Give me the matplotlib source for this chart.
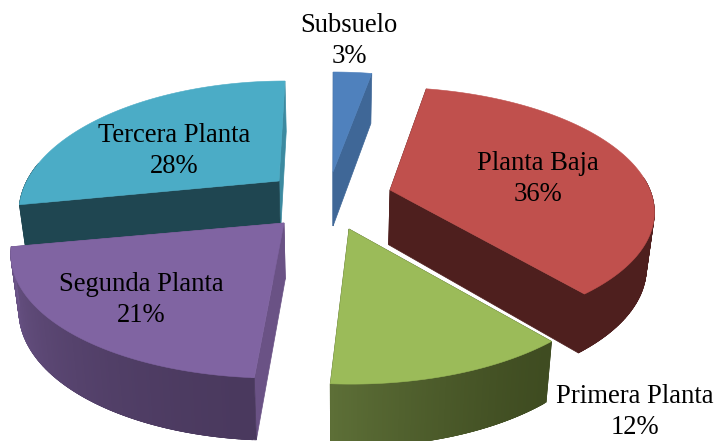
import matplotlib
matplotlib.use('Agg')
import matplotlib.pyplot as plt
import numpy as np

labels = ['Subsuelo', 'Planta Baja', 'Primera Planta', 'Segunda Planta', 'Tercera Planta']
values = [3, 36, 12, 21, 28]

# colores: cara superior, cara inicial, cara final, pared (inicio, fin)
top_colors = ['#4f81bd', '#c0504d', '#9bbb59', '#8064a2', '#4bacc6']
start_face = ['#3f6797', '#4e1f1e', '#3f4c21', '#6a5285', '#1f4651']
end_face = ['#3f6797', '#4e1f1e', '#3f4c21', '#6a5285', '#3c8aa0']
wall_a = ['#3f6797', '#4e1f1e', '#3f4c21', '#4a395e', '#1f4651']
wall_b = ['#3f6797', '#4e1f1e', '#5d6f37', '#6c5589', '#1f4651']

# separacion de cada porcion respecto al centro (pixeles)
explode_dx = [-2, 55, 14, -51, -56]
explode_dy = [-28, -10, 29, 23, -19]
# ajuste de radio y perspectiva por porcion
scale_x = [0.96, 1.0, 1.01, 1.02, 0.97]
scale_y = [1.0, 0.977, 1.0, 1.0, 1.0]
persp = [0.216, 0.156, 0.216, 0.216, 0.216]
label_pos = [(349, 41), (538, 179), (635, 412), (141, 300), (174, 151)]

cx, cy = 335, 200
rx, ry = 260, 121.6
shear = 0.00107
shrink = 0.975


def top_pt(i, tx, ty, a):
    u, v = np.sin(a), np.cos(a)
    s = 1 / (1 + persp[i] * v)
    x = tx + rx * scale_x[i] * u * s
    y = ty - ry * scale_y[i] * v * s
    x = x + (cx - tx) * (ty - y) * shear
    return x, y


def drop(x, y):
    d = 50 + (y - 72) * 0.04
    return cx + (x - cx) * shrink, y + d


def face(ax, x0, y0, x1, y1, color):
    bx0, by0 = drop(x0, y0)
    bx1, by1 = drop(x1, y1)
    ax.fill([x0, x1, bx1, bx0], [y0, y1, by1, by0], color=color, lw=0.5)


def mix(c0, c1, t):
    a = np.array(matplotlib.colors.to_rgb(c0))
    b = np.array(matplotlib.colors.to_rgb(c1))
    return tuple(a + (b - a) * t)


fig = plt.figure(figsize=(7.17, 4.41), dpi=100)
ax = fig.add_axes([0, 0, 1, 1])
ax.set_xlim(0, 717)
ax.set_ylim(441, 0)
ax.axis('off')

edges = np.cumsum([0] + values) / sum(values) * 2 * np.pi
order = [0, 4, 1, 3, 2]

for i in order:
    a0, a1 = edges[i], edges[i + 1]
    tx = cx + explode_dx[i]
    ty = cy + explode_dy[i]
    angles = np.linspace(a0, a1, 120)
    xs, ys = top_pt(i, tx, ty, angles)

    face(ax, tx, ty, xs[-1], ys[-1], end_face[i])
    face(ax, tx, ty, xs[0], ys[0], start_face[i])

    # pared exterior, solo la parte delantera
    n = len(angles)
    for j in range(n - 1):
        if np.cos(angles[j]) < 0.12:
            e = min(j + 3, n - 1)
            face(ax, xs[j], ys[j], xs[e], ys[e], mix(wall_a[i], wall_b[i], (j / (n - 2)) ** 1.5))

    ax.fill(np.r_[tx, xs], np.r_[ty, ys], color=top_colors[i], lw=0.4)

    ax.text(label_pos[i][0], label_pos[i][1], f'{labels[i]}\n{values[i]}%',
            ha='center', va='center', family='Liberation Serif', fontsize=19.2,
            color='black', linespacing=1.28)

fig.savefig('out.png', dpi=100)
